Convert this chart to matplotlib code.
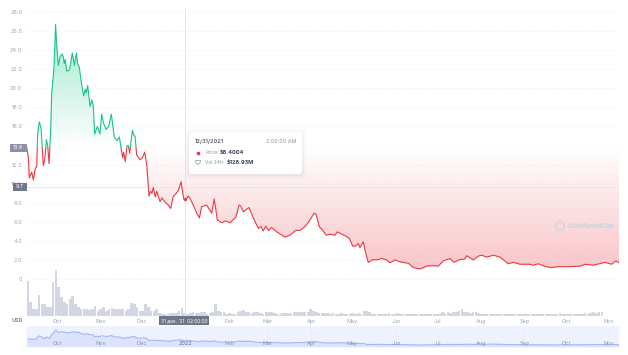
#!/usr/bin/env python3
"""Token price chart with tooltip, volume bars and navigator strip."""

import matplotlib
matplotlib.use("Agg")
import matplotlib.pyplot as plt
import numpy as np
from matplotlib.patches import FancyBboxPatch, Polygon, Rectangle

plt.rcParams["font.family"] = ["Inter", "DejaVu Sans"]

W, H = 628, 355

# days since 9 Sep 2021
price_days = [
    0.1, 1.3, 2, 3.7, 4.9, 6.3, 7.3, 8, 9.2, 10.4, 12, 13, 14.2, 15.1, 16.1, 17.3, 18, 19.6, 20.8, 21.5,
    22.7, 23.9, 25.4, 26.3, 27, 27.7, 28.7, 30.6, 31.5, 32.7, 34.2, 35.6, 36.5, 37.7, 38.9, 40.8, 42, 42.7,
    43.7, 45.4, 46.8, 47.7, 48.7, 50.6, 52.5, 53.7, 54.9, 56.8, 58.7, 60.6, 62.7, 64.6, 66.3, 68.7, 69.4,
    70.6, 71.8, 72.7, 73.7, 75.6, 76.8, 77.5, 78.7, 81.1, 82.7, 84.4, 85.8, 87.5, 88.7, 89.6, 90.6, 92, 93,
    95.4, 96.8, 97.7, 99.4, 101.3, 103, 104.9, 106.5, 108.5, 110.4, 112.3, 113.5, 115.4, 117.3, 119.6,
    121.6, 123.5, 125.1, 128.7, 132.3, 134.1, 136.3, 139.4, 142.3, 145.4, 149.6, 151.8, 153, 154.9, 158.9,
    162, 165.6, 167.5, 169.1, 170.9, 172.7, 175.1, 178.7, 184.6, 188.2, 192.3, 195.4, 199, 202.5, 205.4,
    206.8, 209.1, 211.6, 214, 216.8, 220.4, 222, 225.1, 228.2, 230.6, 233, 234.6, 237, 238.2, 240.6, 241.8,
    244.1, 247.7, 250.1, 253.7, 257.3, 259.6, 263.2, 266.8, 272.7, 276.3, 281.1, 285.9, 290.6, 294.1,
    297.7, 302.5, 305.4, 309.6, 313.2, 314.4, 319.1, 322.7, 325.1, 328.7, 333.4, 338.2, 344.1, 347.7,
    352.5, 359.6, 362, 365.6, 369.1, 373.9, 381.1, 388.2, 395.4, 398.9, 404.9, 413.2, 418, 420.9, 423.2,
]
price = [
    13.8, 12.8, 10.6, 11.2, 10.4, 11.6, 11.8, 15.3, 16.5, 15.8, 11.9, 12.5, 14.6, 14.0, 12.1, 15.6, 19.5, 22.1, 26.7, 24.7,
    22.4, 23.3, 23.6, 23.3, 22.6, 23.0, 21.8, 21.9, 22.6, 23.7, 22.4, 23.7, 22.6, 22.2, 20.9, 19.2, 19.9, 19.5,
    20.3, 18.1, 18.8, 18.1, 15.2, 16.0, 15.2, 17.3, 16.4, 15.7, 16.0, 17.3, 14.9, 14.5, 14.9, 12.7, 13.3,
    12.3, 14.0, 14.0, 13.2, 15.6, 15.0, 15.0, 13.0, 12.5, 12.7, 13.3, 12.1, 8.7, 9.2, 9.0, 9.6, 8.6, 9.2,
    8.1, 8.5, 8.3, 8.0, 7.75, 7.4, 8.7, 8.9, 9.3, 10.2, 8.4, 8.2, 8.7, 8.3, 7.6,
    6.9, 6.4, 7.6, 7.75, 6.9, 8.4, 6.2, 5.9, 6.1, 5.9, 6.5, 7.75, 7.65, 7.05, 7.5,
    6.4, 5.3, 5.5, 5.05, 5.55, 5.1, 5.4, 4.95, 4.4, 4.6, 5.1, 5.1, 5.5, 6.2, 6.9,
    6.8, 5.5, 5.1, 4.6, 4.7, 4.6, 4.95, 4.7, 4.5, 4.25, 3.45, 3.45, 3.7, 3.3, 3.9, 3.0,
    1.75, 2.05, 2.0, 2.15, 2.0, 1.7, 2.0, 1.8, 1.65, 1.2, 1.05, 1.35, 1.4, 1.35,
    1.9, 2.15, 1.75, 2.05, 2.1, 2.45, 2.0, 2.4, 2.5, 2.3, 2.5, 2.3, 1.6, 1.75,
    1.55, 1.55, 1.45, 1.6, 1.4, 1.2, 1.3, 1.3, 1.35, 1.55, 1.45, 1.75, 1.55, 1.9, 1.7,
]
baseline_price = 13.8
hover_price = 9.7
hover_day = 113
hover_dot = 8.4004

# 24h volume in $M, one bar per two days
volume = [
    2200, 840, 420, 380, 1300, 735, 735, 525, 525, 2100, 2850, 1800, 1155, 840, 735, 1050, 1260, 735, 525, 420,
    380, 380, 335, 380, 590, 315, 380, 525, 315, 380, 505, 380, 380, 380, 380, 315, 380, 800, 695, 525,
    315, 315, 755, 525, 315, 315, 380, 168, 105, 105, 105, 147, 168, 168, 295, 505, 168, 105, 168, 210,
    147, 147, 190, 250, 126, 168, 210, 755, 315, 230, 210, 126, 147, 105, 126, 250, 315, 355, 250, 210,
    168, 210, 250, 168, 126, 210, 250, 250, 168, 126, 126, 168, 147, 168, 168, 190, 210, 210, 210, 250,
    250, 380, 295, 250, 168, 168, 168, 147, 126, 147, 126, 126, 147, 126, 105, 126, 147, 126, 147, 126,
    315, 315, 250, 126, 105, 105, 126, 105, 126, 147, 105, 126, 168, 126, 105, 105, 84, 105, 126, 105,
    84, 105, 84, 105, 126, 105, 84, 84, 210, 168, 210, 168, 190, 250, 295, 380, 250, 210, 168, 250,
    250, 168, 126, 105, 105, 84, 105, 84, 84, 84, 105, 84, 84, 105, 84, 84, 105, 126, 105, 84,
    105, 84, 105, 84, 84, 105, 126, 84, 105, 84, 168, 126, 105, 105, 84, 105, 84, 105, 126, 168,
    126, 168, 210, 168, 210, 210,
]

y_ticks = [0, 2, 4, 6, 8, 10, 12, 16, 18, 20, 22, 24, 26, 28]
month_days = [21.8, 52.9, 82.5, 113.9, 144.6, 172.1, 203.2, 232.9, 263.9, 293.9, 324.6, 355.7, 385.4, 416]
month_labels = ["Oct", "Nov", "Dec", "2022", "Feb", "Mar", "Apr", "May", "Jun", "Jul", "Aug", "Sep", "Oct", "Nov"]

RED = "#ea3943"
GREEN = "#16c784"
GREY = "#a1a7bb"
DARK = "#58667e"


def px_axes(fig, left, top, right, bottom):
    return fig.add_axes([left / W, 1 - bottom / H, (right - left) / W, (bottom - top) / H])


def gradient(ax, color, y_from, y_to, a_from, a_to, clip):
    rgb = matplotlib.colors.to_rgb(color)
    alpha = np.linspace(a_from, a_to, 256)
    img = np.zeros((256, 1, 4))
    img[..., 0], img[..., 1], img[..., 2] = rgb
    img[:, 0, 3] = alpha
    im = ax.imshow(img, extent=[0, 423.2, y_to, y_from], origin="upper" if y_from > y_to else "lower",
                   aspect="auto", zorder=1, interpolation="bilinear")
    im.set_clip_path(clip, ax.transData)


fig = plt.figure(figsize=(W / 100, H / 100), dpi=100)
fig.patch.set_facecolor("white")

# ── Volume ───────────────────────────────────────────────────────────────────
ax_vol = px_axes(fig, 26.5, 268, 619, 315.5)
vol_days = np.arange(len(volume)) * 2 + 1
ax_vol.bar(vol_days, volume, width=1.8, color="#d3d7e3", linewidth=0)
ax_vol.set_xlim(0, 423.2)
ax_vol.set_ylim(0, 3000)
ax_vol.axis("off")

# ── Price ────────────────────────────────────────────────────────────────────
ax = px_axes(fig, 26.5, 12, 619, 317)
ax.patch.set_alpha(0)
ax.set_xlim(0, 423.2)
ax.set_ylim(-3.98, 28)
for side in ax.spines.values():
    side.set_visible(False)
ax.set_yticks(y_ticks)
ax.set_yticklabels(["0" if t == 0 else f"{t:.1f}" for t in y_ticks], fontsize=4, color=GREY)
ax.tick_params(axis="y", length=0, pad=3)
# 2022 sits under the hover date tag
ax.set_xticks(month_days)
ax.set_xticklabels(["" if m == "2022" else m for m in month_labels], fontsize=4, color=GREY)
ax.tick_params(axis="x", length=0, pad=1.5)
ax.grid(True, axis="y", linestyle=":", linewidth=0.5, color="#e9ebf1")

d = np.array(price_days)
p = np.array(price)
shape = ax.fill_between(d, p, baseline_price, interpolate=True, color="none", linewidth=0)
clip = shape.get_paths()[0]
gradient(ax, GREEN, 26.7, baseline_price, 0.42, 0.0, clip)
gradient(ax, RED, baseline_price, 1.0, 0.0, 0.3, clip)
ax.set_xlim(0, 423.2)
ax.set_ylim(-3.98, 28)

ax.axhline(baseline_price, color="#eceef3", linewidth=0.5, linestyle=":", zorder=1.5)
ax.axhline(hover_price, color="#e6e8ef", linewidth=0.7, zorder=1.5)
ax.vlines(hover_day, -3.98, 28.4, color="#e3e6ee", linewidth=0.7, zorder=1.5, clip_on=False)

line_up, = ax.plot(d, p, color=GREEN, linewidth=0.8, zorder=3)
line_dn, = ax.plot(d, p, color=RED, linewidth=0.8, zorder=3)
line_up.set_clip_path(Rectangle((0, baseline_price), 423.2, 20, transform=ax.transData))
line_dn.set_clip_path(Rectangle((0, -4), 423.2, 4 + baseline_price, transform=ax.transData))
ax.scatter([hover_day], [hover_dot], s=5, color=RED, linewidth=0, zorder=4)

# ── Navigator ────────────────────────────────────────────────────────────────
ax_nav = px_axes(fig, 26.5, 326, 619, 346.7)
ax_nav.set_facecolor("#eef2ff")
ax_nav.fill_between(d, p, -1.85, color="#dbe3fd", linewidth=0)
ax_nav.plot(d, p, color="#a3b6f5", linewidth=0.8)
ax_nav.vlines(month_days, -1.85, 33.5, color="#dfe3f2", linewidth=0.4, linestyle=":")
ax_nav.set_xlim(0, 423.2)
ax_nav.set_ylim(-1.85, 33.5)
ax_nav.set_xticks([])
ax_nav.set_yticks([])
for side in ax_nav.spines.values():
    side.set_visible(False)
for day, label in zip(month_days, month_labels):
    ax_nav.text(day, 3.0, label, fontsize=4, color="#8d95ab" if label != "2022" else DARK,
                ha="center", va="center")

# ── Overlay in pixel coordinates: tooltip, axis tags, watermark ──────────────
ov = fig.add_axes([0, 0, 1, 1])
ov.set_xlim(0, W)
ov.set_ylim(H, 0)
ov.axis("off")
ov.patch.set_alpha(0)

for grow, a in [(4, 0.02), (2.5, 0.03), (1.2, 0.04)]:
    ov.add_patch(FancyBboxPatch((189 - grow, 132 - grow + 1), 113 + 2 * grow, 42 + 2 * grow,
                                boxstyle="round,pad=0,rounding_size=4", fc="#58667e", ec="none", alpha=a))
ov.add_patch(FancyBboxPatch((189, 132), 113, 42, boxstyle="round,pad=0,rounding_size=3", fc="white", ec="none"))
ov.text(195, 141.5, "12/31/2021", fontsize=4.1, color="#3b4356", fontweight="medium", va="center")
ov.text(296, 141.5, "2:00:00 AM", fontsize=3.9, color="#8d95ab", ha="right", va="center")
ov.scatter([198], [153], s=7, color=RED, linewidth=0)
ov.text(205, 153, "Price:", fontsize=3.7, color="#8d95ab", va="center")
ov.text(220, 153, "$8.4004", fontsize=4.0, color="#3b4356", fontweight="bold", va="center")
ov.add_patch(Polygon([(195.5, 160.5), (200.5, 160.5), (200, 163), (198, 164.5), (196, 163)],
                     closed=True, fc="none", ec="#8d95ab", lw=0.5))
ov.text(205, 162.5, "Vol 24h:", fontsize=3.5, color="#8d95ab", va="center")
ov.text(226.5, 162.5, "$128.93M", fontsize=4.0, color="#3b4356", fontweight="bold", va="center")

ov.add_patch(Rectangle((10, 143.5), 16.5, 8.5, fc="#8c92a3", ec="none"))
ov.text(18.2, 147.9, "13.8", fontsize=3.8, color="white", ha="center", va="center")
ov.add_patch(Rectangle((13, 183), 13.5, 8, fc="#6f7687", ec="none"))
ov.text(19.7, 187, "9.7", fontsize=3.8, color="white", ha="center", va="center")
ov.text(17, 321, "USD", fontsize=3.9, color="#7e8699", fontweight="bold", ha="center", va="center")

ov.add_patch(Rectangle((159, 316), 50, 9, fc="#6f7687", ec="none"))
ov.text(184, 320.6, "31 дек. '21  02:00:00", fontsize=3.4, color="white", ha="center", va="center")

ov.add_patch(Rectangle((25.5, 331.5), 2.5, 8, fc="white", ec="#e3e6ee", lw=0.3))
ov.add_patch(Rectangle((617.5, 331.5), 2.5, 8, fc="white", ec="#e3e6ee", lw=0.3))

theta = np.linspace(0, 2 * np.pi, 60)
ov.plot(560 + 4.3 * np.cos(theta), 226 + 4.3 * np.sin(theta), color="#c7d3dc", linewidth=0.8)
ov.text(567.5, 226.3, "CoinMarketCap", fontsize=4.4, color="#c7d3dc", fontweight="bold", va="center")

fig.savefig("out.png", dpi=100)
